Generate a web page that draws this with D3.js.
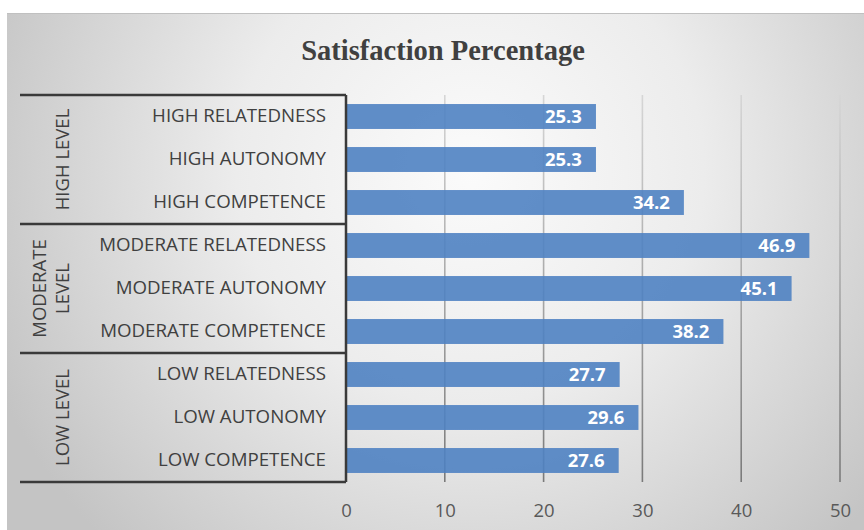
<!DOCTYPE html>
<html>
<head>
<meta charset="utf-8">
<script src="https://cdn.jsdelivr.net/npm/d3@7"></script>
<style>
  body { margin: 0; background: #fff; }
  svg { display: block; }
</style>
</head>
<body>
<div id="chart"></div>
<script>
// data
var categories = [
  "HIGH RELATEDNESS", "HIGH AUTONOMY", "HIGH COMPETENCE",
  "MODERATE RELATEDNESS", "MODERATE AUTONOMY", "MODERATE COMPETENCE",
  "LOW RELATEDNESS", "LOW AUTONOMY", "LOW COMPETENCE"
];
var values = [25.3, 25.3, 34.2, 46.9, 45.1, 38.2, 27.7, 29.6, 27.6];
var groups = [
  {lines: ["HIGH LEVEL"], first: 0, last: 2},
  {lines: ["MODERATE", "LEVEL"], first: 3, last: 5},
  {lines: ["LOW LEVEL"], first: 6, last: 8}
];
var xTicks = [0, 10, 20, 30, 40, 50];
var title = "Satisfaction Percentage";

var W = 864, H = 530;
var margin = {top: 95, right: 24, bottom: 48, left: 346};

var svg = d3.select("#chart").append("svg")
  .attr("width", W).attr("height", H);

var defs = svg.append("defs");
var bg = defs.append("radialGradient")
  .attr("id", "bg")
  .attr("gradientUnits", "userSpaceOnUse")
  .attr("cx", 470).attr("cy", 170).attr("r", 520);
bg.append("stop").attr("offset", "0%").attr("stop-color", "#fbfbfb");
bg.append("stop").attr("offset", "45%").attr("stop-color", "#ececec");
bg.append("stop").attr("offset", "100%").attr("stop-color", "#c4c4c4");

var gridGrad = defs.append("linearGradient")
  .attr("id", "gridg")
  .attr("gradientUnits", "userSpaceOnUse")
  .attr("x1", 0).attr("y1", margin.top).attr("x2", 0).attr("y2", H - margin.bottom);
gridGrad.append("stop").attr("offset", "0%").attr("stop-color", "#d6d6d6");
gridGrad.append("stop").attr("offset", "100%").attr("stop-color", "#7a7a7a");

// panel
svg.append("rect")
  .attr("x", 7).attr("y", 13).attr("width", W - 7).attr("height", H - 13)
  .attr("fill", "url(#bg)");
svg.append("line")
  .attr("x1", 7).attr("x2", W).attr("y1", 13.5).attr("y2", 13.5)
  .attr("stroke", "#c0c0c0").attr("stroke-width", 1);

svg.append("text")
  .attr("x", 443).attr("y", 60)
  .attr("text-anchor", "middle")
  .attr("font-family", "'Liberation Serif', 'Times New Roman', serif")
  .attr("font-weight", "bold")
  .attr("font-size", 28.5)
  .attr("fill", "#404040")
  .text(title);

var x = d3.scaleLinear().domain([0, 50]).range([margin.left, 840]);
var y = d3.scaleBand().domain(categories)
  .range([margin.top, H - margin.bottom])
  .paddingInner(0.42).paddingOuter(0.21);

// gridlines
svg.append("g").selectAll("line")
  .data(xTicks.slice(1))
  .join("line")
  .attr("x1", function(d) { return x(d); })
  .attr("x2", function(d) { return x(d); })
  .attr("y1", margin.top).attr("y2", H - margin.bottom)
  .attr("stroke", "url(#gridg)").attr("stroke-width", 1.6);

// bars
svg.append("g").selectAll("rect")
  .data(values)
  .join("rect")
  .attr("x", x(0))
  .attr("y", function(d, i) { return y(categories[i]); })
  .attr("width", function(d) { return x(d) - x(0); })
  .attr("height", y.bandwidth())
  .attr("fill", "#4f82c2")
  .attr("fill-opacity", 0.9);

// value labels
svg.append("g").selectAll("text")
  .data(values)
  .join("text")
  .attr("x", function(d) { return x(d) - 14; })
  .attr("y", function(d, i) { return y(categories[i]) + y.bandwidth() / 2; })
  .attr("dy", "0.36em")
  .attr("text-anchor", "end")
  .attr("font-family", "'Open Sans', sans-serif")
  .attr("font-weight", "bold")
  .attr("font-size", 18.5)
  .attr("fill", "#fff")
  .text(function(d) { return d.toFixed(1); });

// x axis tick labels
var xAxis = d3.axisBottom(x).tickValues(xTicks).tickSize(0).tickPadding(0);
var gx = svg.append("g")
  .attr("transform", "translate(0," + (H - margin.bottom) + ")")
  .call(xAxis);
gx.select(".domain").remove();
gx.selectAll("text")
  .attr("y", 35)
  .attr("dy", 0)
  .attr("font-family", "'Open Sans', sans-serif")
  .attr("font-size", 18.5)
  .attr("fill", "#595959");

// category labels
var yAxis = d3.axisLeft(y).tickSize(0).tickPadding(20);
var gy = svg.append("g")
  .attr("transform", "translate(" + margin.left + ",0)")
  .call(yAxis);
gy.select(".domain").remove();
gy.selectAll("text")
  .attr("font-family", "'Open Sans', sans-serif")
  .attr("font-size", 18.7)
  .attr("fill", "#404040");

// group frame lines
var step = y.step();
var top0 = margin.top;
var frame = svg.append("g").attr("stroke", "#3a3a3a").attr("stroke-width", 2.5);
var seps = [0].concat(groups.map(function(g) { return g.last + 1; }));
frame.selectAll("line.sep")
  .data(seps)
  .join("line")
  .attr("class", "sep")
  .attr("x1", 20).attr("x2", margin.left)
  .attr("y1", function(k) { return top0 + k * step; })
  .attr("y2", function(k) { return top0 + k * step; });
frame.append("line")
  .attr("x1", margin.left).attr("x2", margin.left)
  .attr("y1", top0).attr("y2", H - margin.bottom);

// group labels (rotated)
groups.forEach(function(g) {
  var cy = top0 + (g.first + g.last + 1) / 2 * step;
  var n = g.lines.length;
  g.lines.forEach(function(line, j) {
    var cx = 62 - (n - 1 - j) * 23;
    svg.append("text")
      .attr("transform", "translate(" + cx + "," + cy + ") rotate(-90)")
      .attr("text-anchor", "middle")
      .attr("dy", "0.36em")
      .attr("font-family", "'Open Sans', sans-serif")
      .attr("font-size", 18.5)
      .attr("fill", "#404040")
      .text(line);
  });
});
</script>
</body>
</html>
